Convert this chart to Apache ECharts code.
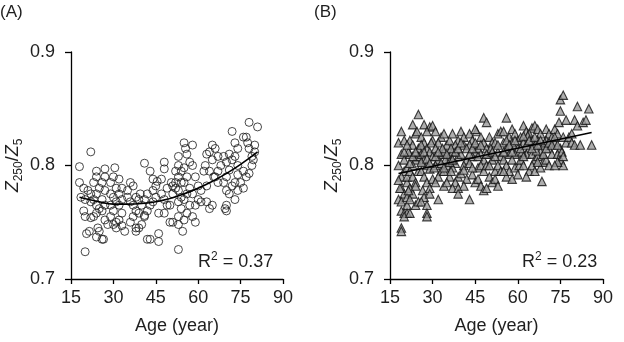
<!DOCTYPE html>
<html>
<head>
<meta charset="utf-8">
<script src="https://cdn.jsdelivr.net/npm/echarts@6/dist/echarts.min.js"></script>
<style>
  html, body { margin: 0; padding: 0; background: #fff; }
  #chart { width: 624px; height: 342px; }
</style>
</head>
<body>
<div id="chart"></div>
<script>
// x axis ticks (both panels)
const ageTicks = [15, 30, 45, 60, 75, 90];
const ratioTicks = [0.7, 0.8, 0.9];

// panel (A): age, Z250/Z5 (circles)
const ageA = [
  18, 18, 22, 19.5, 18.5, 20, 19.5, 20, 20.5, 21.5, 20, 21, 22, 22, 22,
  24, 24, 23, 25, 24, 23, 24, 25, 24, 23, 24.5, 24, 26, 25, 27, 27, 26, 27, 26, 27, 26, 27, 28, 26.5,
  30.5, 30, 29, 31, 29, 30, 31, 29, 30, 29, 31, 30, 31, 32, 33, 32, 33, 32, 33, 32, 33, 34,
  36, 37, 35, 35, 36, 37, 38, 37, 36, 38, 38, 39, 39, 40, 39.5, 38, 39, 41, 40,
  41, 43, 42, 41, 43, 42, 41, 42, 43, 44, 45, 44, 45, 44, 46, 46, 46, 45.5,
  48, 48, 49, 47, 48, 49, 48, 47, 50.5, 51, 51, 50, 51, 50, 52, 52, 52,
  53, 53, 54, 53, 54, 53, 54, 53, 54, 53, 53, 53, 54.5, 55, 55.5, 56, 57, 55, 56, 55, 57, 56, 55, 57, 56, 55, 58, 58, 58, 58, 59,
  59, 60, 61, 60, 59, 61, 62, 63, 64, 64, 63, 63, 64, 65, 65, 65.5, 65, 62.5,
  66, 67, 68, 67, 66, 67, 69, 70, 70, 69, 70, 71, 70, 70, 69.5, 71, 72, 71, 72, 73, 72, 73,
  74, 73, 74, 74, 73, 74, 76, 75, 76, 76, 77, 77.5, 78, 79, 79, 78, 78, 81, 80, 80, 79.5, 77
];
const ratioA = [
  0.799, 0.785, 0.812, 0.780, 0.772, 0.770, 0.760, 0.755, 0.740, 0.742, 0.724, 0.778, 0.775, 0.768, 0.754,
  0.795, 0.790, 0.785, 0.780, 0.775, 0.770, 0.765, 0.762, 0.758, 0.755, 0.745, 0.737, 0.735, 0.742, 0.797, 0.790, 0.785, 0.778, 0.770, 0.765, 0.760, 0.752, 0.748, 0.735,
  0.798, 0.790, 0.785, 0.780, 0.775, 0.772, 0.768, 0.765, 0.760, 0.755, 0.750, 0.748, 0.745, 0.788, 0.780, 0.775, 0.770, 0.765, 0.758, 0.752, 0.747, 0.742,
  0.785, 0.782, 0.778, 0.772, 0.768, 0.765, 0.760, 0.755, 0.750, 0.745, 0.742, 0.745, 0.770, 0.765, 0.775, 0.772, 0.758, 0.755, 0.748,
  0.802, 0.795, 0.775, 0.770, 0.765, 0.760, 0.756, 0.735, 0.735, 0.788, 0.782, 0.778, 0.772, 0.768, 0.758, 0.740, 0.733, 0.786,
  0.803, 0.797, 0.780, 0.775, 0.770, 0.765, 0.758, 0.788, 0.785, 0.782, 0.775, 0.750, 0.750, 0.765, 0.780, 0.795, 0.785,
  0.808, 0.800, 0.795, 0.790, 0.785, 0.778, 0.772, 0.768, 0.762, 0.755, 0.748, 0.726, 0.742, 0.820, 0.815, 0.810, 0.803, 0.798, 0.790, 0.785, 0.780, 0.775, 0.770, 0.765, 0.758, 0.752, 0.818, 0.800, 0.775, 0.755, 0.750,
  0.790, 0.782, 0.778, 0.770, 0.765, 0.768, 0.795, 0.810, 0.812, 0.795, 0.782, 0.768, 0.762, 0.818, 0.805, 0.790, 0.765, 0.800,
  0.815, 0.808, 0.800, 0.795, 0.790, 0.785, 0.808, 0.803, 0.790, 0.785, 0.778, 0.775, 0.765, 0.760, 0.762, 0.810, 0.805, 0.796, 0.782, 0.770, 0.830, 0.820,
  0.815, 0.808, 0.800, 0.792, 0.785, 0.778, 0.780, 0.785, 0.795, 0.825, 0.825, 0.820, 0.815, 0.808, 0.800, 0.793, 0.838, 0.834, 0.818, 0.812, 0.805, 0.790
];
// quadratic fit curve (A)
const fitAgeA = [18, 25, 30, 35, 40, 45, 50, 55, 60, 65, 70, 75, 81];
const fitA = [0.772, 0.768, 0.766, 0.766, 0.7665, 0.768, 0.771, 0.775, 0.780, 0.786, 0.793, 0.801, 0.812];

// panel (B): age, Z250/Z5 (triangles)
const ageB = [
  18, 19, 20, 19, 18, 20, 19, 21, 19, 20, 18, 19, 21, 19, 20, 21, 19, 19, 20, 21, 21, 20, 21, 18.5, 18,
  23, 24, 22, 23, 22, 24, 23, 22, 23, 24, 22, 23, 22, 24, 22, 25, 25, 25, 25, 24, 25, 24.5, 21.5, 21.5,
  27, 29, 28, 26, 27, 28, 26, 27, 28, 26, 27, 28, 26.5, 27, 26, 28, 28, 28, 30, 30, 29, 30, 29, 30, 29, 29, 29.5, 26,
  31, 33, 32, 31, 33, 32, 31, 33, 32, 31, 34, 32, 34, 35, 34, 36, 35, 34, 36, 35, 36, 33.5, 30.5, 34.5,
  37, 39, 38, 37, 39, 38, 37, 39, 38, 37, 39, 39, 40, 41, 41, 40, 42, 41, 40, 42, 41, 36.5, 36.5,
  43, 44, 45.5, 43, 45, 44, 43, 46, 44, 45, 43, 47, 46, 47, 48, 47, 48, 46, 47, 48, 48, 45, 48,
  49, 50, 51, 49, 50, 51, 49, 52, 50, 51, 49, 53, 54, 52, 53, 54, 53, 54, 52, 53, 50.5,
  56, 55, 57, 55, 56, 57, 55, 56, 57, 56, 58, 59, 58, 60, 59, 58, 59, 60, 58, 60, 60.5,
  62, 63, 61, 62, 64, 63, 61, 62, 64, 63, 65, 64, 65, 66, 65, 66, 65, 66, 66, 61.5, 63.5,
  67, 68, 67, 69, 68, 67, 69, 68, 68.5, 70, 71, 70, 71, 72, 70, 71, 72, 69.5, 66.5,
  73, 74, 73, 75, 74, 75, 76, 74, 74.5, 75, 76, 75, 76, 77, 75.5, 77, 73,
  78, 79, 80, 80, 81, 81, 82, 83, 84, 85, 86, 79,
  // dense core of the band
  20, 21, 22, 23, 24, 26, 27, 28, 29, 31, 32, 33, 35, 36, 38, 39, 40, 42, 43, 44,
  45, 46, 47, 49, 50, 51, 52, 53, 55, 56, 57, 58, 59, 61, 62, 63, 64, 65, 66, 67,
  68, 69, 70, 71, 72, 73, 74, 76, 44, 41, 37, 34, 55, 62, 67
];
const ratioB = [
  0.820, 0.830, 0.822, 0.810, 0.800, 0.795, 0.790, 0.785, 0.780, 0.775, 0.770, 0.768, 0.765, 0.760, 0.758, 0.758, 0.745, 0.742, 0.755, 0.790, 0.798, 0.805, 0.772, 0.780, 0.787,
  0.836, 0.828, 0.822, 0.818, 0.810, 0.805, 0.800, 0.795, 0.790, 0.785, 0.780, 0.775, 0.770, 0.765, 0.758, 0.845, 0.815, 0.808, 0.795, 0.782, 0.768, 0.830, 0.812, 0.778,
  0.836, 0.834, 0.830, 0.825, 0.820, 0.815, 0.810, 0.805, 0.800, 0.795, 0.790, 0.785, 0.778, 0.772, 0.768, 0.765, 0.758, 0.755, 0.835, 0.822, 0.812, 0.808, 0.797, 0.788, 0.780, 0.775, 0.820, 0.803,
  0.830, 0.825, 0.820, 0.815, 0.810, 0.805, 0.800, 0.795, 0.790, 0.785, 0.782, 0.770, 0.828, 0.818, 0.812, 0.808, 0.800, 0.795, 0.790, 0.785, 0.822, 0.815, 0.798, 0.805,
  0.828, 0.822, 0.818, 0.812, 0.808, 0.802, 0.798, 0.790, 0.785, 0.780, 0.780, 0.775, 0.830, 0.825, 0.818, 0.810, 0.805, 0.800, 0.793, 0.788, 0.782, 0.815, 0.795,
  0.828, 0.822, 0.830, 0.818, 0.812, 0.808, 0.802, 0.798, 0.792, 0.785, 0.770, 0.825, 0.815, 0.810, 0.805, 0.800, 0.795, 0.788, 0.782, 0.778, 0.842, 0.832, 0.820,
  0.838, 0.825, 0.820, 0.815, 0.810, 0.805, 0.800, 0.795, 0.790, 0.785, 0.780, 0.828, 0.830, 0.820, 0.812, 0.808, 0.800, 0.795, 0.788, 0.782, 0.815,
  0.842, 0.830, 0.825, 0.820, 0.815, 0.810, 0.805, 0.800, 0.795, 0.790, 0.832, 0.828, 0.820, 0.815, 0.810, 0.805, 0.798, 0.792, 0.788, 0.822, 0.800,
  0.835, 0.830, 0.825, 0.820, 0.815, 0.810, 0.805, 0.800, 0.795, 0.790, 0.833, 0.828, 0.822, 0.818, 0.810, 0.805, 0.800, 0.795, 0.835, 0.812, 0.826,
  0.832, 0.828, 0.822, 0.818, 0.812, 0.808, 0.803, 0.798, 0.786, 0.832, 0.828, 0.822, 0.815, 0.810, 0.805, 0.800, 0.825, 0.820, 0.813,
  0.832, 0.828, 0.820, 0.815, 0.810, 0.805, 0.800, 0.803, 0.838, 0.858, 0.862, 0.848, 0.825, 0.820, 0.812, 0.840, 0.800,
  0.825, 0.820, 0.818, 0.840, 0.835, 0.852, 0.818, 0.838, 0.840, 0.850, 0.818, 0.828,
  0.812, 0.818, 0.802, 0.808, 0.812, 0.818, 0.812, 0.806, 0.802, 0.808, 0.812, 0.802, 0.810, 0.803, 0.812, 0.815, 0.820, 0.815, 0.810, 0.815,
  0.820, 0.808, 0.818, 0.810, 0.800, 0.812, 0.808, 0.818, 0.812, 0.822, 0.818, 0.812, 0.822, 0.815, 0.826, 0.818, 0.822, 0.815, 0.825, 0.818,
  0.822, 0.810, 0.815, 0.820, 0.818, 0.825, 0.818, 0.808, 0.798, 0.796, 0.805, 0.798, 0.795, 0.808, 0.803
];
// linear fit (B)
const fitAgeB = [18, 86];
const fitB = [0.793, 0.829];

const labelA = '(A)';
const labelB = '(B)';
const r2A = '0.37';
const r2B = '0.23';

const FONT = 'Liberation Sans, Arial, sans-serif';
const INK = '#1f1f1f';

function pairs(xs, ys) {
  return xs.map((x, i) => [x, ys[i]]);
}

function xAxisFor(gridIndex) {
  return {
    gridIndex: gridIndex,
    type: 'value',
    min: ageTicks[0],
    max: ageTicks[ageTicks.length - 1],
    interval: 15,
    name: 'Age (year)',
    nameLocation: 'middle',
    nameGap: 38,
    nameTextStyle: { fontFamily: FONT, fontSize: 18, color: INK },
    axisLine: { show: true, lineStyle: { color: '#000', width: 1.3 } },
    axisTick: { show: true, length: 5, lineStyle: { color: '#000', width: 1.3 } },
    axisLabel: { fontFamily: FONT, fontSize: 18, color: INK, margin: 10 },
    splitLine: { show: false }
  };
}

function yAxisFor(gridIndex) {
  return {
    gridIndex: gridIndex,
    type: 'value',
    min: ratioTicks[0],
    max: ratioTicks[ratioTicks.length - 1],
    interval: 0.1,
    name: '{z|Z}{s|250}{n|/}{z|Z}{s|5}',
    nameLocation: 'middle',
    nameRotate: 90,
    nameGap: 46,
    nameTextStyle: {
      color: INK,
      rich: {
        z: { fontFamily: FONT, fontSize: 18, fontStyle: 'italic', color: INK, lineHeight: 24 },
        n: { fontFamily: FONT, fontSize: 18, color: INK, lineHeight: 24 },
        s: { fontFamily: FONT, fontSize: 12, color: INK, verticalAlign: 'bottom', lineHeight: 12 }
      }
    },
    axisLine: { show: true, lineStyle: { color: '#000', width: 1.3 } },
    axisTick: { show: true, length: 6, lineStyle: { color: '#000', width: 1.3 } },
    axisLabel: {
      fontFamily: FONT, fontSize: 18, color: INK, margin: 16,
      formatter: v => v.toFixed(1)
    },
    splitLine: { show: false }
  };
}

function r2Text(left, value) {
  return {
    type: 'text',
    left: left,
    top: 251,
    style: {
      text: '{t|R}{p|2}{t| = ' + value + '}',
      rich: {
        t: { fontFamily: FONT, fontSize: 18, fill: INK, lineHeight: 22 },
        p: { fontFamily: FONT, fontSize: 12, fill: INK, verticalAlign: 'top', lineHeight: 12 }
      }
    }
  };
}

const chart = echarts.init(document.getElementById('chart'), null, { renderer: 'canvas' });

chart.setOption({
  animation: false,
  backgroundColor: '#fff',
  grid: [
    { left: 71, top: 52, width: 212, height: 227 },
    { left: 390, top: 52, width: 213, height: 227 }
  ],
  xAxis: [xAxisFor(0), xAxisFor(1)],
  yAxis: [yAxisFor(0), yAxisFor(1)],
  graphic: [
    { type: 'text', left: 0, top: 4, style: { text: labelA, fontFamily: FONT, fontSize: 17, fill: INK } },
    { type: 'text', left: 314, top: 4, style: { text: labelB, fontFamily: FONT, fontSize: 17, fill: INK } },
    r2Text(198, r2A),
    r2Text(522, r2B)
  ],
  series: [
    {
      type: 'scatter',
      xAxisIndex: 0, yAxisIndex: 0,
      symbol: 'circle',
      symbolSize: 8,
      itemStyle: { color: 'rgba(255,255,255,0)', borderColor: '#1a1a1a', borderWidth: 1 },
      data: pairs(ageA, ratioA)
    },
    {
      type: 'line',
      xAxisIndex: 0, yAxisIndex: 0,
      smooth: true,
      showSymbol: false,
      lineStyle: { color: '#000', width: 1.6 },
      data: pairs(fitAgeA, fitA),
      z: 3
    },
    {
      type: 'scatter',
      xAxisIndex: 1, yAxisIndex: 1,
      symbol: 'triangle',
      symbolSize: 8.5,
      itemStyle: { color: '#9a9a9a', borderColor: '#111', borderWidth: 1.1 },
      data: pairs(ageB, ratioB)
    },
    {
      type: 'line',
      xAxisIndex: 1, yAxisIndex: 1,
      showSymbol: false,
      lineStyle: { color: '#000', width: 1.6 },
      data: pairs(fitAgeB, fitB),
      z: 3
    }
  ]
});
</script>
</body>
</html>
